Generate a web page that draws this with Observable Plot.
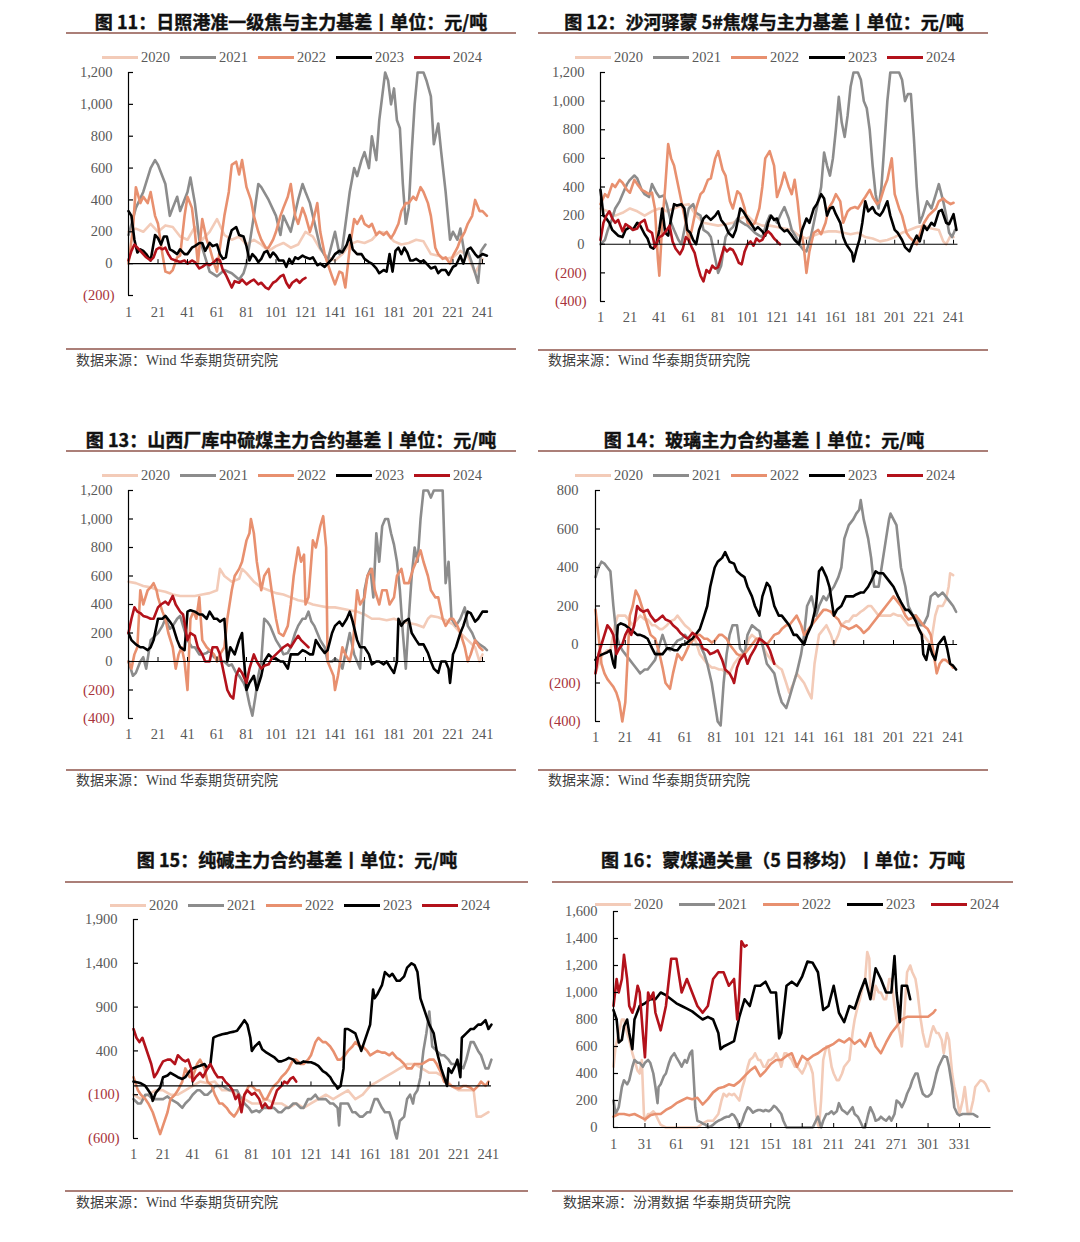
<!DOCTYPE html>
<html><head><meta charset="utf-8">
<script src="https://cdn.jsdelivr.net/npm/d3@7"></script>
<script src="https://cdn.jsdelivr.net/npm/@observablehq/plot@0.6"></script>
<style>
html,body{margin:0;padding:0;background:#fff;}
body{width:1080px;height:1242px;position:relative;overflow:hidden;}
.abs{position:absolute;white-space:nowrap;}
.title{font-family:"Noto Sans CJK SC","Noto Sans",sans-serif;font-weight:700;font-size:18px;color:#111;transform:translate(-50%,-50%);line-height:1;-webkit-text-stroke:0.4px #111;}
.rule{height:2px;background:#ab7f78;}
.src{font-family:"Liberation Serif","Noto Sans CJK SC",serif;font-size:14px;color:#404040;transform:translateY(-50%);line-height:1;}
.lgtxt{font-family:"Liberation Serif",serif;font-size:14.5px;color:#595959;transform:translateY(-50%);line-height:1;}
</style></head>
<body>
<script>
const YEARS = ["2020","2021","2022","2023","2024"];
const COLORS = ["#f3cbb8","#8c8c8c","#e8906f","#000000","#b3121b"];

// ---------- 图11 日照港准一级焦 ----------
const f11_2020=[[1,200],[6,220],[11,200],[16,250],[21,200],[26,240],[31,230],[36,170],[41,150],[46,230],[51,150],[56,200],[61,280],[66,180],[71,150],[76,170],[81,120],[86,150],[91,120],[96,80],[101,110],[106,130],[111,100],[116,120],[121,200],[126,170],[131,90],[136,40],[141,20],[146,60],[151,120],[156,140],[161,130],[166,150],[171,200],[176,190],[181,140],[186,120],[191,130],[196,150],[201,140],[206,60],[211,50],[216,30],[221,40],[226,80],[231,50],[236,-60],[241,30]];
const f11_2021=[[1,180],[6,350],[11,450],[16,600],[19,650],[21,620],[26,500],[29,300],[31,350],[34,420],[36,330],[41,450],[43,540],[46,380],[49,150],[51,100],[56,-50],[61,-80],[66,-40],[71,-60],[76,-100],[79,-60],[81,0],[86,300],[89,500],[91,480],[96,400],[101,300],[104,180],[106,300],[111,200],[116,400],[119,500],[121,450],[124,380],[126,300],[131,100],[136,20],[141,200],[144,60],[146,100],[151,450],[154,600],[156,550],[159,650],[161,700],[164,600],[166,800],[169,650],[171,900],[173,1050],[175,1200],[177,1150],[179,1000],[181,1100],[183,900],[185,850],[187,500],[189,250],[191,350],[193,700],[195,1000],[197,1200],[201,1200],[203,1150],[206,1050],[208,750],[211,880],[213,700],[216,450],[219,150],[221,200],[224,150],[226,220],[229,50],[231,80],[234,0],[236,-60],[238,-120],[240,80],[243,120]];
const f11_2022=[[1,0],[4,220],[6,480],[9,380],[11,420],[14,380],[16,450],[19,300],[21,250],[24,60],[26,-50],[29,-60],[31,-40],[34,40],[36,50],[39,300],[41,420],[44,350],[46,200],[48,0],[51,280],[54,150],[56,100],[59,0],[61,-50],[63,100],[66,300],[69,450],[71,620],[74,640],[76,560],[78,650],[81,480],[84,400],[86,300],[89,200],[91,150],[94,100],[96,100],[99,150],[101,200],[104,300],[106,350],[109,420],[111,500],[114,300],[116,250],[119,350],[121,300],[124,200],[126,260],[129,380],[131,200],[134,60],[136,0],[139,-80],[141,-130],[144,-50],[146,-60],[148,-150],[151,100],[154,280],[156,250],[159,300],[161,250],[164,230],[166,250],[169,180],[171,200],[174,180],[176,200],[179,160],[181,190],[184,250],[186,330],[189,380],[191,380],[194,420],[196,400],[199,480],[201,450],[204,380],[206,300],[209,100],[211,60],[214,30],[216,40],[219,0],[221,50],[224,100],[226,150],[229,200],[231,250],[234,300],[236,400],[239,330],[241,330],[244,300]];
const f11_2023=[[1,330],[3,300],[5,150],[7,70],[9,90],[11,80],[13,60],[16,20],[19,180],[21,160],[23,120],[25,170],[27,170],[29,90],[31,80],[34,60],[36,90],[39,60],[41,60],[44,100],[46,110],[49,130],[51,130],[53,80],[56,130],[58,110],[61,120],[63,60],[65,30],[67,40],[69,150],[71,210],[74,230],[76,180],[79,170],[81,110],[83,20],[85,60],[87,40],[89,10],[91,30],[93,70],[95,80],[97,40],[99,70],[101,50],[103,20],[106,20],[108,-20],[110,30],[112,0],[114,40],[116,30],[119,50],[121,40],[124,30],[126,40],[129,-10],[131,0],[134,-20],[136,0],[139,30],[141,60],[144,80],[146,70],[149,120],[151,180],[153,90],[156,60],[159,60],[161,30],[164,10],[166,0],[169,-30],[171,-60],[174,-40],[176,-50],[178,60],[180,-50],[182,80],[184,100],[186,60],[188,100],[190,70],[192,20],[194,20],[196,30],[199,10],[201,20],[204,-10],[206,-30],[209,-20],[211,-60],[213,-40],[216,-40],[218,-70],[221,-20],[223,-10],[226,50],[228,0],[231,90],[233,100],[236,60],[238,40],[241,60],[244,50]];
const f11_2024=[[1,20],[3,80],[5,120],[7,100],[9,80],[11,60],[13,40],[16,20],[18,40],[20,90],[22,100],[24,90],[26,100],[28,60],[30,30],[33,20],[36,10],[39,20],[41,0],[44,20],[46,10],[49,-30],[51,-20],[54,0],[56,-10],[59,10],[61,30],[63,20],[65,-40],[67,-70],[69,-110],[71,-150],[73,-110],[76,-120],[78,-100],[81,-130],[84,-110],[86,-100],[89,-130],[91,-120],[94,-150],[96,-160],[99,-120],[101,-110],[104,-80],[106,-70],[108,-120],[110,-150],[112,-120],[115,-100],[117,-120],[119,-100],[121,-90]];

// ---------- 图12 沙河驿蒙5#焦煤 ----------
const f12_2020=[[1,250],[6,230],[11,200],[16,220],[21,250],[26,230],[31,200],[36,230],[41,250],[46,230],[51,250],[56,270],[61,280],[66,200],[71,150],[76,140],[81,130],[86,140],[91,150],[96,180],[101,200],[106,150],[111,130],[116,130],[121,120],[126,110],[131,100],[136,60],[141,40],[146,60],[151,80],[156,90],[161,90],[166,80],[171,70],[176,80],[181,50],[186,40],[191,20],[196,30],[201,50],[206,80],[211,100],[216,120],[221,130],[226,110],[231,100],[234,20],[236,0],[239,60],[241,50]];
const f12_2021=[[1,0],[4,30],[6,100],[9,180],[11,250],[14,300],[16,350],[19,420],[21,450],[24,480],[26,460],[29,380],[31,350],[34,330],[36,420],[39,360],[41,330],[44,340],[46,280],[49,150],[51,100],[54,30],[56,0],[59,150],[61,250],[64,280],[66,220],[69,200],[71,100],[74,80],[76,50],[79,-100],[81,-200],[83,-150],[86,50],[89,100],[91,120],[94,180],[96,160],[99,140],[101,130],[104,100],[106,80],[109,60],[111,50],[114,150],[116,200],[119,180],[121,150],[124,220],[126,260],[129,180],[131,100],[134,50],[136,0],[139,-40],[141,-50],[144,50],[146,150],[149,300],[151,400],[153,640],[155,550],[157,480],[159,600],[161,800],[163,1030],[165,850],[167,750],[169,900],[171,1100],[173,1200],[176,1200],[178,1150],[180,1000],[182,950],[184,800],[186,550],[188,350],[190,250],[192,400],[194,700],[196,1000],[198,1200],[201,1200],[204,1200],[206,1150],[208,1000],[210,1050],[212,1050],[214,750],[216,400],[218,150],[220,200],[223,300],[226,250],[229,350],[231,420],[234,300],[236,200],[238,80],[240,50],[242,100]];
const f12_2022=[[1,280],[4,350],[6,330],[9,420],[11,400],[14,450],[16,430],[19,380],[21,360],[24,450],[26,420],[29,380],[31,370],[34,350],[36,360],[38,250],[40,-100],[41,-220],[43,150],[45,400],[47,700],[49,600],[51,550],[54,400],[56,300],[59,150],[61,20],[63,100],[66,250],[69,350],[71,370],[74,450],[76,460],[79,600],[81,650],[84,520],[86,480],[89,300],[91,250],[94,370],[96,350],[99,250],[101,150],[104,130],[106,150],[109,250],[111,400],[113,600],[116,650],[119,550],[121,330],[124,420],[126,500],[129,400],[131,350],[133,450],[135,300],[137,100],[139,0],[141,-200],[143,-50],[146,80],[149,100],[151,70],[154,150],[156,250],[159,300],[161,350],[164,300],[166,150],[169,230],[171,250],[174,260],[176,250],[179,300],[181,330],[184,380],[186,330],[189,280],[191,300],[194,400],[196,450],[199,600],[201,350],[204,250],[206,200],[209,80],[211,50],[214,20],[216,0],[219,100],[221,150],[224,200],[226,220],[229,250],[231,300],[234,320],[236,300],[239,280],[241,290]];
const f12_2023=[[1,380],[3,200],[5,180],[7,150],[9,100],[11,80],[13,60],[16,50],[18,100],[21,120],[23,100],[26,150],[28,130],[31,70],[33,40],[35,-20],[37,-30],[39,0],[41,100],[43,250],[45,80],[47,60],[49,180],[51,280],[53,270],[56,280],[58,250],[60,100],[62,80],[64,30],[66,0],[68,100],[71,180],[73,200],[76,170],[79,200],[81,230],[83,170],[86,130],[88,80],[91,50],[93,100],[96,250],[98,230],[101,180],[103,150],[106,100],[108,120],[111,90],[113,60],[115,150],[117,200],[119,170],[121,180],[123,120],[126,90],[128,100],[131,60],[133,30],[136,0],[138,100],[141,180],[143,150],[146,250],[148,280],[151,350],[153,320],[155,200],[157,250],[159,260],[161,210],[164,150],[166,50],[168,0],[170,-30],[172,-60],[173,-120],[175,-40],[177,30],[179,150],[181,300],[183,230],[186,260],[188,220],[191,200],[193,230],[196,300],[198,200],[201,100],[203,80],[206,30],[208,-20],[211,-50],[213,0],[216,60],[218,20],[221,130],[223,100],[226,150],[228,130],[231,230],[233,240],[236,150],[238,140],[241,210],[243,100]];
const f12_2024=[[1,30],[3,150],[5,200],[7,230],[9,180],[11,150],[13,170],[16,90],[18,140],[21,120],[23,100],[26,110],[28,150],[31,170],[33,100],[36,80],[38,-20],[41,50],[43,60],[46,100],[48,130],[50,20],[52,-30],[55,-70],[57,-30],[59,50],[61,30],[63,-20],[65,-60],[67,-150],[69,-220],[71,-260],[73,-180],[75,-200],[77,-150],[79,-170],[81,-160],[83,-90],[85,-20],[87,-50],[89,-30],[91,-40],[93,-80],[95,-130],[97,-140],[99,-50],[101,0],[103,20],[105,-10],[107,40],[109,20],[111,30],[113,70],[115,90],[117,70],[119,40],[121,20],[123,0]];

// ---------- 图13 山西厂库中硫煤 ----------
const f13_2020=[[1,560],[6,550],[11,530],[16,520],[21,500],[26,490],[31,470],[36,460],[41,460],[46,460],[51,470],[56,480],[61,500],[63,650],[66,600],[71,560],[76,580],[78,650],[81,620],[86,560],[91,520],[96,500],[101,480],[106,470],[111,450],[116,430],[121,420],[126,400],[131,390],[136,380],[141,380],[146,370],[151,360],[156,350],[161,330],[166,300],[171,300],[176,290],[181,300],[186,280],[191,270],[196,260],[201,240],[204,300],[206,320],[211,310],[216,290],[221,260],[226,200],[231,150],[236,100],[239,0],[241,50]];
const f13_2021=[[1,0],[4,-100],[6,-80],[9,0],[11,30],[13,-50],[16,150],[19,180],[21,200],[24,250],[26,300],[29,230],[31,250],[34,300],[36,320],[38,250],[41,150],[44,100],[46,100],[49,50],[51,50],[54,60],[56,80],[59,30],[61,30],[64,0],[66,0],[69,-30],[71,-20],[74,-80],[76,-100],[79,-150],[81,-200],[83,-300],[85,-380],[87,-250],[89,-100],[91,0],[93,300],[95,280],[97,250],[99,200],[101,150],[104,100],[106,50],[109,60],[111,100],[114,200],[116,250],[119,300],[121,300],[123,350],[125,280],[127,250],[129,200],[131,150],[134,100],[136,0],[139,0],[141,20],[144,0],[146,-50],[149,100],[151,200],[154,50],[156,0],[158,-50],[160,300],[161,500],[163,600],[165,650],[167,450],[169,900],[171,700],[173,950],[175,1000],[177,1000],[179,900],[181,820],[183,700],[185,500],[187,200],[189,-50],[191,300],[193,600],[195,800],[197,700],[199,1000],[201,1200],[204,1200],[206,1150],[208,1200],[211,1200],[214,1200],[216,550],[218,700],[220,300],[223,250],[226,300],[229,380],[231,250],[234,200],[236,150],[239,120],[242,100],[244,80]];
const f13_2022=[[1,0],[3,-50],[5,50],[7,100],[9,500],[11,400],[14,500],[16,520],[18,550],[20,500],[21,450],[24,350],[26,300],[28,200],[31,100],[33,-50],[35,50],[37,100],[39,0],[41,-200],[43,300],[45,350],[47,300],[49,450],[51,150],[54,100],[56,80],[59,50],[61,0],[63,50],[66,100],[68,300],[71,500],[73,600],[76,650],[78,700],[81,850],[83,900],[84,1000],[86,900],[88,700],[91,500],[93,600],[96,650],[98,500],[101,300],[103,200],[106,180],[109,250],[111,400],[113,600],[116,800],[118,700],[120,750],[121,400],[123,450],[126,850],[128,800],[131,950],[133,1020],[135,800],[136,0],[138,-50],[140,-100],[141,-200],[143,-100],[146,100],[148,50],[151,0],[153,100],[156,500],[158,400],[161,450],[163,600],[166,650],[168,500],[171,400],[173,500],[176,500],[178,400],[181,450],[183,600],[186,650],[188,550],[191,550],[194,650],[196,700],[199,780],[201,700],[204,600],[206,500],[209,450],[211,450],[214,300],[216,250],[219,300],[221,300],[224,250],[226,200],[229,100],[231,0],[233,50],[236,150],[239,100],[241,80]];
const f13_2023=[[1,200],[3,150],[6,120],[9,100],[11,100],[14,80],[16,100],[18,150],[21,300],[24,300],[26,320],[29,280],[31,250],[34,150],[36,100],[39,80],[41,350],[43,360],[46,350],[49,330],[51,330],[54,300],[56,350],[59,300],[61,300],[63,280],[66,300],[68,0],[70,100],[73,50],[76,150],[78,200],[79,50],[81,-200],[83,-150],[86,-100],[88,-200],[91,-100],[93,0],[96,50],[99,20],[101,20],[104,0],[106,0],[109,-50],[111,50],[114,50],[116,50],[119,80],[121,70],[124,50],[126,50],[128,150],[131,100],[134,60],[136,80],[139,200],[141,250],[144,280],[146,250],[149,300],[151,350],[153,280],[156,150],[158,100],[161,100],[164,50],[166,-20],[169,0],[171,0],[174,-20],[176,0],[179,-50],[181,-80],[183,0],[184,300],[186,250],[188,280],[191,300],[193,200],[196,150],[198,120],[201,120],[204,60],[206,0],[208,-50],[211,-80],[213,0],[216,0],[218,-50],[219,-150],[221,50],[223,100],[226,200],[228,250],[231,350],[233,340],[236,280],[238,300],[241,350],[244,350]];
const f13_2024=[[1,200],[3,300],[5,380],[7,350],[9,340],[11,320],[14,310],[16,300],[18,300],[21,380],[23,400],[26,420],[28,400],[31,460],[33,400],[36,350],[38,330],[41,150],[43,200],[46,180],[48,100],[51,50],[53,0],[56,0],[58,100],[61,100],[63,50],[66,-100],[68,-200],[70,-240],[72,-260],[74,-100],[76,-50],[78,-80],[81,-150],[83,-50],[86,50],[88,0],[91,-50],[93,-30],[96,-20],[98,20],[101,50],[104,80],[106,100],[109,120],[111,100],[114,150],[116,180],[118,150],[121,120],[123,100]];

// ---------- 图14 玻璃 ----------
const f14_2020=[[1,-150],[4,-80],[6,-50],[9,-30],[11,-30],[14,100],[16,150],[19,150],[21,150],[24,120],[26,100],[29,130],[31,150],[34,130],[36,130],[39,100],[41,100],[44,80],[46,80],[49,100],[51,120],[54,130],[56,150],[59,120],[61,100],[64,80],[66,60],[69,0],[71,-50],[74,-80],[76,-100],[79,-120],[81,-120],[84,-130],[86,-130],[89,-150],[91,-150],[94,-100],[96,-80],[99,-50],[101,-50],[104,30],[106,50],[109,30],[111,30],[114,-20],[116,-50],[119,-80],[121,-100],[124,-120],[126,-130],[129,-200],[131,-250],[134,-200],[136,-150],[139,-180],[141,-200],[144,-250],[146,-280],[148,-100],[151,50],[154,80],[156,100],[159,50],[161,0],[164,50],[166,100],[169,120],[171,120],[174,150],[176,150],[179,170],[181,180],[184,200],[186,200],[189,170],[191,150],[194,150],[196,150],[199,150],[201,160],[204,150],[206,150],[209,120],[211,100],[214,100],[216,100],[219,70],[221,50],[224,20],[226,0],[229,150],[231,200],[234,200],[236,230],[238,300],[239,370],[241,360]];
const f14_2021=[[1,350],[3,400],[5,430],[7,420],[9,400],[11,380],[13,200],[15,50],[17,0],[19,-30],[21,-50],[24,-80],[26,-100],[29,-130],[31,-150],[34,-130],[36,-130],[39,-100],[41,-80],[44,0],[46,50],[49,-20],[51,-30],[54,0],[56,20],[59,30],[61,50],[64,20],[66,0],[69,0],[71,0],[74,-50],[76,-100],[79,-200],[81,-300],[83,-400],[85,-420],[87,-200],[89,-50],[91,50],[93,100],[96,100],[98,-20],[101,-50],[103,50],[106,100],[109,80],[111,70],[113,0],[116,-100],[119,-130],[121,-150],[124,-250],[126,-300],[129,-330],[131,-280],[134,-200],[136,-150],[139,-50],[141,50],[143,200],[146,250],[149,150],[151,200],[154,250],[156,230],[159,280],[161,300],[164,350],[166,400],[168,550],[171,620],[174,650],[176,680],[178,700],[179,750],[181,650],[184,550],[186,450],[188,300],[191,300],[193,400],[196,550],[198,650],[199,680],[201,650],[203,620],[206,400],[209,300],[211,200],[214,150],[216,150],[219,100],[221,100],[224,150],[226,250],[229,270],[231,250],[234,270],[236,250],[239,220],[241,200],[243,170]];
const f14_2022=[[1,180],[3,50],[5,-100],[7,-150],[9,-180],[11,-200],[13,-220],[15,-250],[17,-300],[19,-400],[21,-300],[23,0],[24,150],[26,200],[28,280],[30,250],[32,200],[34,150],[36,100],[38,50],[41,30],[44,-50],[46,-120],[48,-200],[51,-230],[53,-150],[56,-50],[59,-80],[61,-50],[64,0],[66,20],[69,50],[71,50],[74,30],[76,30],[79,10],[81,20],[84,50],[86,50],[89,30],[91,0],[94,-30],[96,-50],[99,-60],[101,-50],[104,-20],[106,0],[109,30],[111,30],[114,10],[116,0],[119,30],[121,50],[124,60],[126,80],[129,100],[131,100],[134,130],[136,150],[139,100],[141,50],[144,80],[146,100],[149,130],[151,150],[154,180],[156,180],[159,170],[161,150],[164,130],[166,100],[169,90],[171,80],[174,90],[176,100],[179,80],[181,60],[184,80],[186,100],[189,130],[191,150],[194,180],[196,200],[199,230],[201,250],[204,220],[206,200],[209,150],[211,130],[214,140],[216,150],[219,120],[221,100],[224,80],[226,50],[228,-50],[230,-150],[232,-100],[234,-80],[236,-80],[239,-100],[241,-120]];
const f14_2023=[[1,-80],[3,-60],[6,-50],[9,-40],[11,-30],[13,-100],[14,-120],[16,100],[18,110],[21,100],[24,80],[26,70],[29,50],[31,50],[34,40],[36,30],[39,-20],[41,-50],[44,-50],[46,-50],[49,-20],[51,-20],[54,-30],[56,-30],[59,0],[61,0],[64,20],[66,30],[69,60],[71,80],[74,150],[76,200],[78,300],[81,400],[83,430],[86,450],[88,480],[91,430],[94,420],[96,380],[99,360],[101,350],[103,300],[106,250],[108,200],[111,150],[113,250],[116,320],[118,300],[121,200],[124,150],[126,150],[129,120],[131,100],[134,50],[136,50],[139,20],[141,0],[143,50],[146,100],[149,200],[151,380],[153,400],[156,350],[158,300],[161,150],[163,180],[166,200],[169,250],[171,250],[174,250],[176,260],[179,270],[181,270],[184,300],[186,330],[189,380],[191,370],[194,370],[196,350],[199,320],[201,300],[204,250],[206,220],[209,180],[211,180],[214,150],[216,120],[218,80],[220,50],[221,-50],[223,-80],[225,0],[227,-50],[229,-80],[231,0],[233,20],[235,40],[237,-20],[239,-100],[241,-110],[243,-130]];
const f14_2024=[[1,-150],[3,-50],[5,0],[7,50],[9,100],[11,80],[13,50],[15,-50],[17,-20],[19,0],[21,50],[23,80],[25,50],[27,100],[29,200],[31,180],[33,170],[36,180],[38,150],[41,120],[43,130],[46,150],[48,130],[51,120],[53,100],[56,80],[58,60],[61,40],[63,30],[66,60],[68,50],[71,20],[73,-20],[76,-30],[78,-50],[81,-40],[83,-30],[86,-80],[88,-130],[91,-150],[93,-180],[94,-200],[96,-120],[98,-80],[101,-50],[103,-100],[105,-60],[108,-20],[111,30],[113,20],[116,0],[118,-30],[121,-100]];

// ---------- 图15 纯碱 ----------
const f15_2020=[[1,-100],[6,-150],[11,-100],[16,-50],[21,-50],[26,-100],[31,-100],[36,-50],[41,0],[46,50],[51,30],[56,50],[61,-50],[66,-50],[71,-100],[76,-150],[81,-200],[86,-200],[91,-150],[96,-200],[101,-200],[106,-250],[111,-200],[116,-250],[121,-200],[126,-150],[131,-100],[136,-150],[141,-100],[146,-50],[151,-150],[156,-100],[161,0],[166,50],[171,100],[176,150],[181,200],[186,250],[191,250],[196,200],[201,150],[206,150],[211,100],[216,0],[221,-50],[226,-50],[231,-50],[233,-350],[236,-350],[241,-300]];
const f15_2021=[[1,-150],[4,-200],[6,-200],[9,-100],[11,-100],[14,-150],[16,-150],[19,-150],[21,-150],[24,-120],[26,-150],[29,-180],[31,-200],[34,-250],[36,-200],[39,-150],[41,-100],[44,-50],[46,-50],[49,-100],[51,-100],[54,-50],[56,0],[59,0],[61,0],[64,-30],[66,-50],[69,-50],[71,-50],[74,-150],[76,-200],[79,-250],[81,-300],[84,-280],[86,-300],[89,-250],[91,-250],[94,-250],[96,-250],[99,-300],[101,-300],[104,-250],[106,-250],[109,-200],[111,-200],[114,-250],[116,-250],[119,-150],[121,-150],[124,-100],[126,-150],[129,-150],[131,-150],[134,-200],[136,-200],[139,-250],[140,-450],[141,-200],[144,-200],[146,-200],[149,-300],[151,-300],[154,-350],[156,-350],[159,-300],[161,-300],[164,-150],[166,-150],[169,-250],[171,-300],[174,-300],[176,-400],[178,-550],[179,-600],[181,-400],[184,-350],[186,-150],[188,-100],[190,-200],[191,-100],[193,-50],[195,100],[197,400],[199,600],[201,850],[203,450],[206,400],[209,350],[211,350],[214,300],[216,250],[219,250],[221,250],[224,200],[226,300],[229,500],[231,500],[234,400],[236,350],[239,200],[241,200],[243,300]];
const f15_2022=[[1,100],[4,-50],[6,-100],[9,-150],[11,-200],[14,-300],[16,-400],[19,-550],[21,-450],[24,-300],[26,-150],[29,-100],[31,-50],[34,50],[36,200],[39,100],[41,100],[44,250],[46,300],[49,200],[51,50],[54,0],[56,-100],[59,-200],[61,-200],[64,-250],[66,-300],[69,-350],[71,-300],[74,-200],[76,-100],[79,0],[81,0],[84,-50],[86,-50],[89,-150],[91,-150],[94,-50],[96,0],[99,50],[101,100],[104,150],[106,200],[109,300],[111,300],[114,250],[116,250],[119,300],[121,350],[124,500],[126,550],[129,500],[131,500],[134,450],[136,400],[139,300],[141,300],[144,350],[146,400],[149,450],[151,500],[154,450],[156,450],[159,400],[161,350],[164,380],[166,400],[169,380],[171,380],[174,350],[176,380],[179,320],[181,300],[184,250],[186,200],[189,200],[191,250],[194,250],[196,250],[199,280],[201,300],[204,300],[206,250],[209,150],[211,50],[214,20],[216,0],[219,-20],[221,-30],[224,0],[226,0],[229,-20],[231,-50],[234,0],[236,50],[239,0],[241,50]];
const f15_2023=[[1,50],[4,40],[6,30],[9,0],[11,-50],[13,-100],[14,-170],[16,-80],[19,-20],[21,100],[24,120],[26,150],[29,120],[31,100],[34,80],[36,100],[39,170],[41,200],[44,220],[46,230],[49,250],[51,200],[53,250],[55,550],[56,560],[59,580],[61,590],[64,600],[66,610],[69,620],[71,630],[74,700],[76,750],[78,700],[80,550],[81,400],[83,450],[86,500],[88,420],[91,380],[94,350],[96,330],[99,280],[101,280],[104,300],[106,320],[109,300],[111,260],[114,260],[116,280],[119,270],[121,270],[124,250],[126,230],[129,170],[131,150],[134,100],[136,40],[138,0],[139,-30],[141,0],[143,200],[144,650],[146,650],[149,620],[151,600],[153,500],[155,400],[157,500],[159,600],[161,700],[163,1100],[164,1000],[166,1050],[169,1150],[171,1300],[174,1250],[176,1280],[179,1200],[181,1200],[184,1250],[186,1350],[189,1400],[191,1380],[193,1300],[195,1000],[197,900],[199,800],[201,700],[204,600],[206,400],[209,200],[211,100],[213,0],[214,200],[216,150],[219,250],[220,300],[222,100],[223,550],[226,600],[229,650],[231,650],[234,700],[236,700],[239,750],[241,650],[243,700]];
const f15_2024=[[1,650],[3,550],[5,500],[7,550],[9,450],[11,350],[13,250],[15,100],[17,150],[19,220],[21,280],[24,300],[26,300],[29,250],[31,350],[34,300],[36,280],[38,300],[40,200],[41,50],[43,100],[46,150],[48,100],[51,200],[53,250],[56,150],[58,100],[61,100],[63,50],[66,0],[68,-50],[70,-150],[72,-100],[74,-300],[76,-100],[78,-50],[81,-100],[83,-80],[86,-150],[88,-250],[90,-200],[92,-250],[94,-250],[96,-150],[98,-50],[101,0],[103,50],[105,30],[107,80],[109,100],[111,50]];

// ---------- 图16 蒙煤通关量 ----------
const f16_2020=[[1,450],[3,600],[6,700],[9,800],[11,800],[14,700],[16,650],[19,550],[21,500],[24,420],[26,400],[28,500],[30,100],[31,50],[34,100],[36,100],[39,120],[41,100],[44,50],[46,20],[51,0],[56,0],[61,0],[66,0],[71,0],[76,0],[81,0],[86,30],[91,50],[96,50],[101,100],[104,200],[106,250],[109,230],[111,250],[114,240],[116,250],[119,220],[121,200],[124,300],[126,350],[129,450],[131,500],[134,520],[136,550],[139,500],[141,500],[144,450],[146,450],[149,500],[151,500],[154,520],[156,550],[159,500],[161,450],[164,550],[166,550],[169,520],[171,500],[174,450],[176,450],[179,420],[181,400],[184,450],[186,500],[189,450],[191,400],[193,200],[195,50],[197,0],[199,200],[201,500],[204,600],[206,600],[209,450],[211,400],[214,350],[216,350],[219,400],[221,450],[224,480],[226,500],[229,700],[231,800],[234,900],[236,950],[239,1050],[241,1100],[243,1300],[245,1250],[246,1000],[249,950],[251,1050],[254,1000],[256,1000],[259,950],[261,950],[264,1100],[266,1100],[269,900],[271,800],[274,700],[276,600],[278,800],[281,1150],[284,1200],[286,1150],[289,1100],[291,1000],[294,800],[296,700],[299,600],[301,600],[304,700],[306,750],[309,700],[311,700],[314,650],[316,550],[319,700],[321,650],[324,400],[326,300],[329,200],[331,100],[334,200],[336,300],[339,100],[341,100],[344,200],[346,300],[349,330],[351,350],[354,340],[356,320],[359,270]];
const f16_2021=[[1,200],[3,100],[6,150],[9,300],[11,350],[14,320],[16,350],[19,450],[21,500],[24,480],[26,480],[29,450],[31,480],[34,500],[36,480],[39,400],[41,300],[43,180],[44,300],[46,320],[49,380],[51,400],[54,480],[56,520],[59,550],[61,520],[64,480],[66,450],[69,500],[71,480],[74,550],[76,570],[78,300],[79,150],[81,50],[84,40],[86,30],[89,20],[91,0],[94,10],[96,20],[99,40],[101,50],[104,60],[106,70],[109,80],[111,80],[114,100],[116,90],[119,50],[121,0],[124,50],[126,100],[129,150],[131,140],[134,110],[136,120],[139,130],[141,130],[144,120],[146,130],[149,120],[151,130],[154,160],[156,150],[159,120],[161,100],[163,50],[166,0],[171,0],[176,0],[181,0],[186,0],[191,0],[194,50],[196,80],[199,0],[201,50],[204,100],[206,100],[209,120],[211,100],[214,120],[216,180],[219,130],[221,120],[224,100],[226,120],[229,150],[231,100],[234,80],[236,50],[239,0],[241,0],[244,100],[246,150],[249,100],[251,50],[254,60],[256,80],[259,60],[261,50],[264,80],[266,50],[269,100],[271,200],[274,180],[276,150],[279,200],[281,250],[284,300],[286,350],[289,400],[291,400],[294,300],[296,250],[299,230],[301,230],[304,250],[306,300],[309,400],[311,450],[314,500],[316,530],[319,520],[321,450],[324,300],[326,150],[329,100],[331,90],[334,100],[336,100],[339,100],[341,100],[344,100],[346,90],[348,80]];
const f16_2022=[[1,80],[6,100],[11,100],[16,90],[21,100],[26,80],[31,60],[36,90],[41,100],[46,100],[51,130],[56,150],[61,180],[66,200],[71,220],[76,210],[81,220],[86,170],[91,210],[96,260],[101,290],[106,300],[111,320],[116,310],[121,340],[126,380],[131,420],[136,450],[141,380],[146,420],[151,470],[156,500],[161,500],[166,530],[171,550],[176,450],[181,530],[186,500],[191,530],[196,550],[201,580],[206,600],[211,620],[216,650],[221,630],[226,660],[231,620],[236,650],[241,600],[246,700],[251,600],[256,550],[261,630],[266,700],[271,750],[276,800],[281,820],[286,820],[291,820],[296,820],[301,820],[306,850],[308,870]];
const f16_2023=[[1,870],[4,800],[6,630],[9,650],[11,750],[14,800],[16,700],[19,580],[21,800],[26,900],[31,920],[36,950],[41,950],[46,1000],[51,980],[56,950],[61,920],[66,900],[71,880],[76,860],[81,830],[86,800],[91,820],[96,800],[101,700],[103,580],[106,600],[111,620],[116,640],[121,820],[126,950],[131,900],[136,1050],[141,1050],[146,1080],[151,1000],[156,1000],[159,660],[161,700],[166,1050],[171,1080],[176,1050],[181,1120],[186,1230],[191,1220],[196,1150],[201,870],[206,900],[211,1050],[216,850],[221,780],[226,900],[231,880],[236,1000],[241,1100],[246,950],[251,1180],[256,1100],[261,1000],[266,1000],[269,1270],[271,1000],[274,780],[276,1050],[281,1050],[284,950]];
const f16_2024=[[1,900],[4,1100],[6,1000],[9,1100],[11,1280],[14,1100],[16,900],[19,850],[21,900],[24,1050],[26,1000],[29,700],[31,520],[34,1000],[36,950],[39,1000],[41,850],[46,720],[51,900],[56,1250],[61,1250],[66,1000],[71,1100],[76,1000],[81,900],[86,850],[91,900],[96,1100],[101,1150],[106,1150],[111,1050],[116,1100],[119,800],[121,1000],[123,1380],[126,1340],[128,1350]];

const fmtY = d => (d < 0 ? "(" + d3.format(",")(-d) + ")" : d3.format(",")(d));

const panels = [
  {title:"图 11：日照港准一级焦与主力基差丨单位：元/吨", tx:291, ty:21,
   L:66, R:516, rule:33, bottomRule:349, src:"数据来源：Wind 华泰期货研究院", srcX:76, srcY:361,
   lgX:102, lgY:57, lgPitch:78,
   x0:128, xEnd:243, pxDay:1.475, yTop:72, yBot:295, yDomain:[-200,1200], yTicks:d3.range(-200,1201,200),
   xTicks:d3.range(1,242,20), xLabY:316, labDx:-16,
   series:[f11_2020,f11_2021,f11_2022,f11_2023,f11_2024]},
  {title:"图 12：沙河驿蒙 5#焦煤与主力基差丨单位：元/吨", tx:764, ty:21,
   L:538, R:988, rule:33, bottomRule:350, src:"数据来源：Wind 华泰期货研究院", srcX:548, srcY:361,
   lgX:575, lgY:57, lgPitch:78,
   x0:600, xEnd:244, pxDay:1.471, yTop:72, yBot:301, yDomain:[-400,1200], yTicks:d3.range(-400,1201,200),
   xTicks:d3.range(1,242,20), xLabY:321.5, labDx:-16,
   series:[f12_2020,f12_2021,f12_2022,f12_2023,f12_2024]},
  {title:"图 13：山西厂库中硫煤主力合约基差丨单位：元/吨", tx:291, ty:439,
   L:66, R:516, rule:451, bottomRule:770, src:"数据来源：Wind 华泰期货研究院", srcX:76, srcY:781,
   lgX:102, lgY:475, lgPitch:78,
   x0:128, xEnd:243, pxDay:1.475, yTop:490, yBot:718, yDomain:[-400,1200], yTicks:d3.range(-400,1201,200),
   xTicks:d3.range(1,242,20), xLabY:738.5, labDx:-16,
   series:[f13_2020,f13_2021,f13_2022,f13_2023,f13_2024]},
  {title:"图 14：玻璃主力合约基差丨单位：元/吨", tx:764, ty:439,
   L:538, R:988, rule:451, bottomRule:770, src:"数据来源：Wind 华泰期货研究院", srcX:548, srcY:781,
   lgX:575, lgY:475, lgPitch:78,
   x0:595, xEnd:244, pxDay:1.49, yTop:490, yBot:721, yDomain:[-400,800], yTicks:d3.range(-400,801,200),
   xTicks:d3.range(1,242,20), xLabY:741.5, labDx:-17,
   series:[f14_2020,f14_2021,f14_2022,f14_2023,f14_2024]},
  {title:"图 15：纯碱主力合约基差丨单位：元/吨", tx:297, ty:859,
   L:65, R:528, rule:882, bottomRule:1191, src:"数据来源：Wind 华泰期货研究院", srcX:76, srcY:1203,
   lgX:110, lgY:905, lgPitch:78,
   x0:133, xEnd:243, pxDay:1.479, yTop:919, yBot:1138, yDomain:[-600,1900], yTicks:d3.range(-600,1901,500),
   xTicks:d3.range(1,242,20), xLabY:1158.5, labDx:-16,
   series:[f15_2020,f15_2021,f15_2022,f15_2023,f15_2024]},
  {title:"图 16：蒙煤通关量（5 日移均）丨单位：万吨", tx:783, ty:859,
   L:552, R:1013, rule:882, bottomRule:1191, src:"数据来源：汾渭数据 华泰期货研究院", srcX:563, srcY:1203,
   lgX:595, lgY:904, lgPitch:84,
   x0:613, xEnd:361, pxDay:1.0485, yTop:911, yBot:1127, yDomain:[0,1600], yTicks:d3.range(0,1601,200),
   xTicks:d3.range(1,332,30), xLabY:1148.5, labDx:-16,
   series:[f16_2020,f16_2021,f16_2022,f16_2023,f16_2024]}
];

function div(cls, style, text) {
  const e = document.createElement("div");
  e.className = "abs " + cls;
  Object.assign(e.style, style);
  if (text != null) e.textContent = text;
  document.body.appendChild(e);
  return e;
}

for (const p of panels) {
  div("title", {left: p.tx + "px", top: p.ty + "px"}, p.title);
  div("rule", {left: p.L + "px", top: (p.rule - 1) + "px", width: (p.R - p.L) + "px"});
  div("rule", {left: p.L + "px", top: (p.bottomRule - 1) + "px", width: (p.R - p.L) + "px"});
  div("src", {left: p.srcX + "px", top: p.srcY + "px"}, p.src);
  YEARS.forEach((yr, i) => {
    const lx = p.lgX + i * p.lgPitch;
    div("", {left: lx + "px", top: (p.lgY - 1.5) + "px", width: "36px", height: "3px", background: COLORS[i]});
    div("lgtxt", {left: (lx + 39) + "px", top: p.lgY + "px"}, yr);
  });

  const svgLeft = p.L, svgTop = p.yTop - 12, svgW = p.R - p.L, svgH = (p.xLabY + 16) - svgTop;
  const x1 = p.x0 + (p.xEnd - 1) * p.pxDay;
  const mL = p.x0 - svgLeft, mR = svgLeft + svgW - x1, mT = p.yTop - svgTop, mB = svgTop + svgH - p.yBot;
  const [ymin, ymax] = p.yDomain;
  const pxUnit = (p.yBot - p.yTop) / (ymax - ymin);
  const tickDays = 5 / p.pxDay;
  const tickUnits = 4 / pxUnit;
  const zeroY = Math.max(0, ymin);
  const marks = [];
  p.series.forEach((s, i) => {
    marks.push(Plot.line(s, {x: d => d[0], y: d => d[1], stroke: COLORS[i], strokeWidth: 2.6, strokeLinejoin: "round"}));
  });
  marks.push(
    Plot.ruleX([1], {y1: () => ymin, y2: () => ymax, stroke: "#000", strokeWidth: 1.2}),
    Plot.ruleY(p.yTicks, {x1: () => 1, x2: () => 1 + tickDays, y: d => d, stroke: "#000", strokeWidth: 1.2}),
    Plot.ruleY([zeroY], {x1: () => 1, x2: () => p.xEnd, y: d => d, stroke: "#000", strokeWidth: 1.2}),
    Plot.ruleX(p.xTicks.slice(1), {x: d => d, y1: () => zeroY, y2: () => zeroY + tickUnits, stroke: "#000", strokeWidth: 1}),
    Plot.text(p.yTicks.filter(d => d >= 0), {y: d => d, frameAnchor: "left", dx: p.labDx, textAnchor: "end", text: fmtY, fill: "#595959", fontSize: 14.5, fontFamily: "Liberation Serif"}),
    Plot.text(p.yTicks.filter(d => d < 0), {y: d => d, frameAnchor: "left", dx: p.labDx + 2, textAnchor: "end", text: fmtY, fill: "#a8323a", fontSize: 14.5, fontFamily: "Liberation Serif"}),
    Plot.text(p.xTicks, {x: d => d, frameAnchor: "bottom", dy: p.xLabY - p.yBot, text: d => String(d), fill: "#595959", fontSize: 14.5, fontFamily: "Liberation Serif"})
  );
  const chart = Plot.plot({
    width: svgW, height: svgH,
    marginLeft: mL, marginRight: mR, marginTop: mT, marginBottom: mB,
    x: {domain: [1, p.xEnd], axis: null},
    y: {domain: [ymin, ymax], axis: null},
    style: {background: "transparent", overflow: "visible"},
    marks
  });
  const wrap = div("", {left: svgLeft + "px", top: svgTop + "px", width: svgW + "px", height: svgH + "px"});
  wrap.appendChild(chart);
}
</script>
</body></html>
